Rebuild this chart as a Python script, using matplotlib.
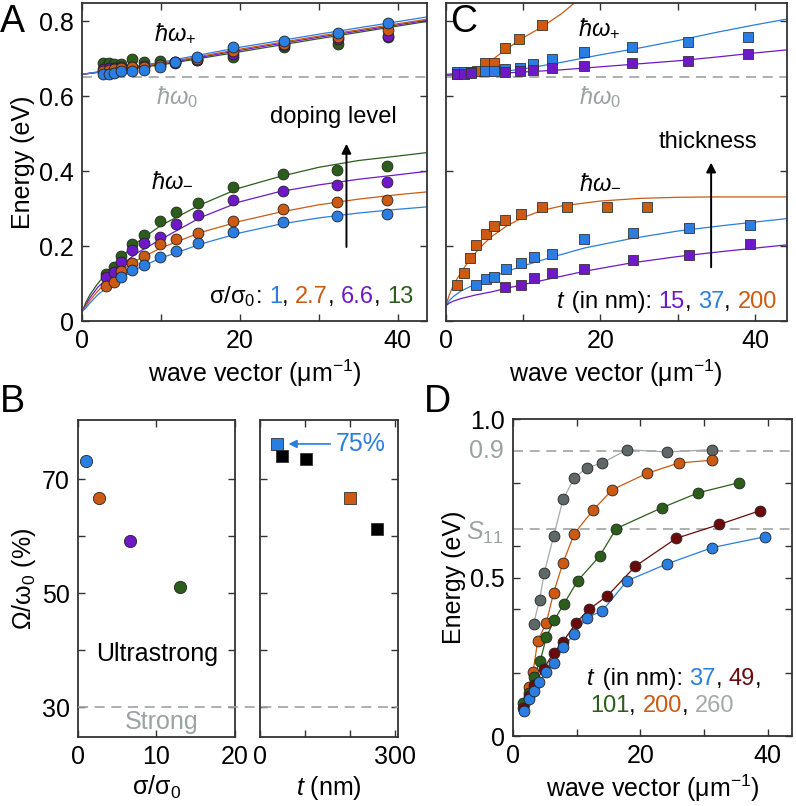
import matplotlib
matplotlib.use('Agg')
import matplotlib.pyplot as plt
from matplotlib import transforms
from matplotlib.lines import Line2D
from matplotlib.offsetbox import TextArea, HPacker, AnnotationBbox

plt.rcParams['font.family'] = ['Liberation Sans', 'DejaVu Sans']
plt.rcParams['mathtext.fontset'] = 'custom'
plt.rcParams['mathtext.rm'] = 'Liberation Sans'
plt.rcParams['mathtext.it'] = 'Liberation Sans:italic'
plt.rcParams['mathtext.bf'] = 'Liberation Sans:bold'

BLUE = '#2a7de1'
ORANGE = '#cc5a12'
PURPLE = '#6e18c8'
GREEN = '#2b5e1a'
DARKRED = '#6b0a0a'
GREY_PT = '#5f6868'
GREY_LN = '#a5a9a9'
GREY_TXT = '#9aa2a2'
DASH = '#9ea3a3'
FS = 18      # tick labels / axis labels
FT = 17      # annotations
NB = '\u00a0'

# ---------------- panel A data: doping series ----------------
a_k_up = [2.6, 3.4, 4.1, 4.9, 6.3, 7.9, 9.9, 11.8, 14.6, 19.1, 25.6, 32.4, 38.7]
a_up_green = [0.687, 0.687, 0.686, 0.686, 0.698, 0.691, 0.693, 0.690, 0.696, 0.703, 0.731, 0.740, 0.757]
a_up_purple = [0.672, 0.674, 0.675, 0.677, 0.678, 0.680, 0.683, 0.688, 0.697, 0.712, 0.735, 0.752, 0.761]
a_up_orange = [0.668, 0.670, 0.672, 0.675, 0.677, 0.678, 0.682, 0.690, 0.700, 0.720, 0.740, 0.757, 0.775]
a_up_blue = [0.659, 0.660, 0.662, 0.666, 0.667, 0.669, 0.678, 0.691, 0.705, 0.731, 0.747, 0.767, 0.794]

a_k_lo = [3.0, 4.0, 4.9, 6.3, 7.9, 9.9, 11.9, 14.7, 19.1, 25.5, 32.3, 38.6]
a_lo_green = [0.125, 0.145, 0.173, 0.205, 0.229, 0.267, 0.291, 0.315, 0.358, 0.392, 0.404, 0.413]
a_lo_purple = [0.118, 0.130, 0.158, 0.189, 0.207, 0.223, 0.260, 0.283, 0.323, 0.347, 0.363, 0.370]
a_lo_orange = [0.093, 0.105, 0.134, 0.155, 0.173, 0.205, 0.218, 0.235, 0.267, 0.298, 0.318, 0.323]
a_k_lo_blue = [4.9, 6.3, 7.9, 9.9, 11.9, 14.7, 19.1, 25.5, 32.3, 38.6]
a_lo_blue = [0.118, 0.136, 0.149, 0.170, 0.188, 0.209, 0.238, 0.265, 0.281, 0.285]

# fit curves
a_fit_k_up = [0, 10, 20, 30, 44]
a_fit_up_blue = [0.658, 0.690, 0.730, 0.765, 0.812]
a_fit_up_orange = [0.658, 0.687, 0.725, 0.760, 0.806]
a_fit_up_purple = [0.658, 0.685, 0.722, 0.757, 0.803]
a_fit_up_green = [0.658, 0.683, 0.718, 0.753, 0.800]
a_fit_k_lo = [0, 0.5, 1, 2, 3, 5, 7, 10, 15, 20, 25, 30, 35, 40, 44]
a_fit_lo_green = [0.025, 0.05, 0.07, 0.10, 0.125, 0.17, 0.21, 0.255, 0.31, 0.355, 0.385, 0.41, 0.428, 0.44, 0.45]
a_fit_lo_purple = [0.025, 0.045, 0.062, 0.09, 0.11, 0.15, 0.182, 0.218, 0.276, 0.318, 0.345, 0.363, 0.378, 0.39, 0.40]
a_fit_lo_orange = [0.025, 0.04, 0.055, 0.08, 0.10, 0.135, 0.163, 0.195, 0.236, 0.266, 0.29, 0.31, 0.325, 0.337, 0.345]
a_fit_lo_blue = [0.025, 0.035, 0.048, 0.07, 0.087, 0.115, 0.14, 0.168, 0.205, 0.235, 0.258, 0.275, 0.288, 0.298, 0.305]

# ---------------- panel C data: thickness series ----------------
c_k_up_orange = [1.5, 2.35, 3.2, 4.1, 5.1, 6.2, 7.7, 9.5, 12.5]
c_up_orange = [0.659, 0.662, 0.665, 0.667, 0.689, 0.689, 0.727, 0.751, 0.789]
c_k_up_blue = [1.5, 2.4, 3.3, 5.1, 6.2, 7.7, 9.6, 11.3, 13.8, 17.9, 24.1, 31.3, 39.1]
c_up_blue = [0.665, 0.665, 0.664, 0.667, 0.667, 0.671, 0.674, 0.685, 0.698, 0.718, 0.731, 0.745, 0.758]
c_k_up_purple = [1.5, 2.4, 3.3, 7.7, 9.6, 11.3, 13.8, 17.9, 24.1, 31.3, 39.1]
c_up_purple = [0.659, 0.660, 0.661, 0.665, 0.667, 0.669, 0.675, 0.680, 0.687, 0.693, 0.712]

c_k_lo_orange = [1.5, 2.4, 3.1, 3.9, 5.2, 6.2, 7.7, 9.7, 12.4, 15.7, 20.9, 26.0]
c_lo_orange = [0.096, 0.129, 0.167, 0.203, 0.232, 0.253, 0.269, 0.285, 0.303, 0.303, 0.303, 0.303]
c_k_lo_blue = [3.9, 5.2, 6.2, 7.8, 9.7, 11.4, 13.8, 17.9, 24.2, 31.4, 39.3]
c_lo_blue = [0.096, 0.111, 0.118, 0.138, 0.155, 0.171, 0.180, 0.220, 0.235, 0.247, 0.257]
c_k_lo_purple = [7.7, 9.7, 11.4, 13.8, 17.9, 24.2, 31.4, 39.3]
c_lo_purple = [0.090, 0.096, 0.114, 0.127, 0.138, 0.163, 0.176, 0.205]

c_fit_k_up_orange = [0, 2, 4, 5.1, 7.7, 10, 12.5, 15, 17.1]
c_fit_up_orange = [0.658, 0.662, 0.672, 0.682, 0.723, 0.755, 0.785, 0.820, 0.856]
c_fit_k_up = [0, 5, 10, 15, 20, 25, 30, 35, 40, 44]
c_fit_up_blue = [0.655, 0.660, 0.672, 0.690, 0.710, 0.728, 0.748, 0.770, 0.790, 0.805]
c_fit_up_purple = [0.656, 0.659, 0.664, 0.670, 0.678, 0.686, 0.694, 0.704, 0.715, 0.723]
c_fit_k_lo_orange = [0, 0.5, 1, 2, 3, 4, 5, 6, 8, 10, 12.5, 15, 20, 25, 30, 35, 44]
c_fit_lo_orange = [0.04, 0.07, 0.095, 0.13, 0.16, 0.185, 0.207, 0.226, 0.255, 0.276, 0.295, 0.307,
                   0.32, 0.327, 0.33, 0.331, 0.331]
c_fit_k_lo = [0, 0.5, 1, 2, 4, 6, 8, 10, 14, 18, 24, 30, 36, 44]
c_fit_lo_blue = [0.04, 0.055, 0.065, 0.08, 0.10, 0.117, 0.133, 0.147, 0.172, 0.195, 0.22, 0.24, 0.255, 0.273]
c_fit_lo_purple = [0.04, 0.048, 0.053, 0.06, 0.07, 0.078, 0.088, 0.097, 0.115, 0.133, 0.155, 0.172, 0.186, 0.203]

# ---------------- panel B data ----------------
b_sigma = [1, 2.7, 6.6, 13]
b_sigma_ratio = [73.2, 66.7, 59.2, 51.1]
b_sigma_colors = [BLUE, ORANGE, PURPLE, GREEN]
b_t = [37, 49, 101, 200, 260]
b_t_ratio = [76.2, 74.0, 73.5, 66.7, 61.2]
b_t_colors = [BLUE, 'black', 'black', ORANGE, 'black']

# ---------------- panel D data ----------------
d_k_blue = [1.67, 2.46, 3.24, 4.03, 5.23, 6.38, 7.85, 9.62, 11.6, 14.0, 17.9, 24.1, 31.3, 39.5]
d_e_blue = [0.08, 0.116, 0.143, 0.171, 0.201, 0.231, 0.28, 0.322, 0.374, 0.395, 0.49, 0.543, 0.595, 0.629]
d_k_red = [1.6, 2.46, 3.24, 4.81, 6.38, 7.85, 9.94, 11.9, 14.8, 19.2, 25.6, 32.4, 38.7]
d_e_red = [0.09, 0.125, 0.16, 0.213, 0.263, 0.298, 0.358, 0.40, 0.442, 0.536, 0.624, 0.668, 0.711]
d_k_green = [1.57, 2.46, 3.24, 4.29, 5.23, 6.48, 7.95, 10.15, 13.6, 16.2, 23.4, 29.1, 35.5]
d_e_green = [0.103, 0.135, 0.187, 0.238, 0.313, 0.366, 0.416, 0.49, 0.568, 0.655, 0.721, 0.768, 0.80]
d_k_orange = [1.67, 2.46, 3.14, 3.87, 5.23, 6.38, 7.85, 9.62, 12.56, 15.6, 21.0, 26.0, 31.3]
d_e_orange = [0.10, 0.156, 0.201, 0.30, 0.358, 0.453, 0.547, 0.639, 0.713, 0.778, 0.829, 0.862, 0.871]
d_k_grey = [3.24, 4.18, 4.91, 6.38, 7.85, 9.62, 11.6, 14.0, 17.9, 24.1, 31.3]
d_e_grey = [0.355, 0.431, 0.516, 0.631, 0.747, 0.815, 0.847, 0.862, 0.904, 0.897, 0.904]

E0 = 0.65
S11 = 0.655


def style_axes(ax):
    for s in ax.spines.values():
        s.set_linewidth(1.3)
        s.set_color('#333333')
    ax.tick_params(direction='in', top=True, right=True, length=5, width=1,
                   labelsize=FS, color='#333333', pad=6)


def color_text(ax, x, y, parts, align=(1, 0.5), size=FS):
    boxes = [TextArea(s, textprops=dict(color=c, fontsize=size)) for s, c in parts]
    pack = HPacker(children=boxes, align='baseline', pad=0, sep=0)
    ab = AnnotationBbox(pack, (x, y), xycoords='data', box_alignment=align,
                        frameon=False, pad=0)
    ax.add_artist(ab)


fig = plt.figure(figsize=(7.96, 8.06), dpi=100)

mk = dict(marker='o', ms=7.8, mec='#222222', mew=0.6, ls='none')
sq = dict(marker='s', ms=7.4, mec='#333333', mew=0.6, ls='none')

# ---------------- A ----------------
axA = fig.add_axes([0.103, 0.6017, 0.4334, 0.3945])
style_axes(axA)
axA.axhline(E0, color=DASH, ls=(0, (6, 4)), lw=1.2, zorder=1)
for fk, fy, col in [(a_fit_k_up, a_fit_up_green, GREEN), (a_fit_k_up, a_fit_up_purple, PURPLE),
                    (a_fit_k_up, a_fit_up_orange, ORANGE), (a_fit_k_up, a_fit_up_blue, BLUE),
                    (a_fit_k_lo, a_fit_lo_green, GREEN), (a_fit_k_lo, a_fit_lo_purple, PURPLE),
                    (a_fit_k_lo, a_fit_lo_orange, ORANGE), (a_fit_k_lo, a_fit_lo_blue, BLUE)]:
    axA.plot(fk, fy, color=col, lw=0.9, zorder=2)
for ys, col in [(a_up_green, GREEN), (a_up_purple, PURPLE), (a_up_orange, ORANGE), (a_up_blue, BLUE)]:
    axA.plot(a_k_up, ys, mfc=col, zorder=3, **mk)
axA.plot(a_k_lo, a_lo_green, mfc=GREEN, zorder=3, **mk)
axA.plot(a_k_lo, a_lo_purple, mfc=PURPLE, zorder=3, **mk)
axA.plot(a_k_lo, a_lo_orange, mfc=ORANGE, zorder=3, **mk)
axA.plot(a_k_lo_blue, a_lo_blue, mfc=BLUE, zorder=3, **mk)
axA.set_xlim(0, 43.7)
axA.set_ylim(0, 0.848)
axA.set_xticks([0, 10, 20, 30, 40])
axA.set_xticklabels(['0', '', '20', '', '40'])
axA.set_yticks([0, 0.2, 0.4, 0.6, 0.8])
axA.set_yticklabels(['0', '0.2', '0.4', '0.6', '0.8'])
axA.set_xlabel('wave vector (μm$^{-1}$)', fontsize=FS, labelpad=3)
axA.set_ylabel('Energy (eV)', fontsize=FS, labelpad=3)
axA.text(11.8, 0.768, r'$\hbar\omega_{+}$', fontsize=FT, ha='center', va='center')
axA.text(12.0, 0.597, r'$\hbar\omega_{0}$', fontsize=FT, ha='center', va='center', color=GREY_TXT)
axA.text(11.4, 0.376, r'$\hbar\omega_{-}$', fontsize=FT, ha='center', va='center')
axA.text(31.8, 0.545, 'doping level', fontsize=FT, ha='center', va='center')
axA.annotate('', xy=(33.5, 0.48), xytext=(33.5, 0.19),
             arrowprops=dict(arrowstyle='-|>', color='black', lw=1.4, mutation_scale=14))
color_text(axA, 42.0, 0.066, [('σ/σ$_0$', 'black'), (':' + NB, 'black'), ('1', BLUE),
                              (',' + NB, 'black'), ('2.7', ORANGE), (',' + NB, 'black'),
                              ('6.6', PURPLE), (',' + NB, 'black'), ('13', GREEN)], size=FT)
fig.text(0.016, 0.973, 'A', fontsize=27, ha='center', va='center')

# ---------------- C ----------------
axC = fig.add_axes([0.5597, 0.6017, 0.429, 0.3945])
style_axes(axC)
axC.axhline(E0, color=DASH, ls=(0, (6, 4)), lw=1.2, zorder=1)
axC.plot(c_fit_k_up_orange, c_fit_up_orange, color=ORANGE, lw=0.9, zorder=2)
axC.plot(c_fit_k_up, c_fit_up_blue, color=BLUE, lw=0.9, zorder=2)
axC.plot(c_fit_k_up, c_fit_up_purple, color=PURPLE, lw=0.9, zorder=2)
axC.plot(c_fit_k_lo_orange, c_fit_lo_orange, color=ORANGE, lw=0.9, zorder=2)
axC.plot(c_fit_k_lo, c_fit_lo_blue, color=BLUE, lw=0.9, zorder=2)
axC.plot(c_fit_k_lo, c_fit_lo_purple, color=PURPLE, lw=0.9, zorder=2)
axC.plot(c_k_up_orange, c_up_orange, mfc=ORANGE, zorder=3, **sq)
axC.plot(c_k_up_blue, c_up_blue, mfc=BLUE, zorder=3, **sq)
axC.plot(c_k_up_purple, c_up_purple, mfc=PURPLE, zorder=3, **sq)
axC.plot(c_k_lo_orange, c_lo_orange, mfc=ORANGE, zorder=3, **sq)
axC.plot(c_k_lo_blue, c_lo_blue, mfc=BLUE, zorder=3, **sq)
axC.plot(c_k_lo_purple, c_lo_purple, mfc=PURPLE, zorder=3, **sq)
axC.set_xlim(0, 44.1)
axC.set_ylim(0, 0.848)
axC.set_xticks([0, 10, 20, 30, 40])
axC.set_xticklabels(['0', '', '20', '', '40'])
axC.set_yticks([0, 0.2, 0.4, 0.6, 0.8])
axC.set_yticklabels([])
axC.set_xlabel('wave vector (μm$^{-1}$)', fontsize=FS, labelpad=3)
axC.text(19.9, 0.78, r'$\hbar\omega_{+}$', fontsize=FT, ha='center', va='center')
axC.text(20.0, 0.597, r'$\hbar\omega_{0}$', fontsize=FT, ha='center', va='center', color=GREY_TXT)
axC.text(20.0, 0.37, r'$\hbar\omega_{-}$', fontsize=FT, ha='center', va='center')
axC.text(33.9, 0.477, 'thickness', fontsize=FT, ha='center', va='center')
axC.annotate('', xy=(34.3, 0.43), xytext=(34.3, 0.136),
             arrowprops=dict(arrowstyle='-|>', color='black', lw=1.4, mutation_scale=14))
color_text(axC, 42.8, 0.05, [('$t$', 'black'), (NB + '(in nm):' + NB, 'black'), ('15', PURPLE),
                             (',' + NB, 'black'), ('37', BLUE), (',' + NB, 'black'),
                             ('200', ORANGE)], size=FT)
fig.text(0.582, 0.973, 'C', fontsize=27, ha='center', va='center')

# ---------------- B ----------------
axB1 = fig.add_axes([0.098, 0.0856, 0.197, 0.3933])
style_axes(axB1)
for x, y, c in zip(b_sigma, b_sigma_ratio, b_sigma_colors):
    axB1.plot(x, y, marker='o', ms=8.8, mfc=c, mec='#222222', mew=0.6, ls='none', zorder=3)
axB1.set_xlim(0, 20)
axB1.set_ylim(24.8, 80.4)
axB1.set_xticks([0, 10, 20])
axB1.set_yticks([30, 40, 50, 60, 70])
axB1.set_yticklabels(['30', '', '50', '', '70'])
axB1.set_xlabel('σ/σ$_0$', fontsize=FS, labelpad=3)
axB1.set_ylabel('Ω/ω$_0$ (%)', fontsize=FS, labelpad=3)
axB1.text(10.1, 39.3, 'Ultrastrong', fontsize=FS, ha='center', va='center')
axB1.text(10.7, 27.5, 'Strong', fontsize=FS, ha='center', va='center', color=GREY_TXT)

axB2 = fig.add_axes([0.3266, 0.0856, 0.173, 0.3933])
style_axes(axB2)
for x, y, c in zip(b_t, b_t_ratio, b_t_colors):
    axB2.plot(x, y, marker='s', ms=8.5, mfc=c, mec='#333333', mew=0.6, ls='none', zorder=3)
axB2.set_xlim(0, 305)
axB2.set_ylim(24.8, 80.4)
axB2.set_xticks([0, 100, 200, 300])
axB2.set_xticklabels(['0', '', '', '300'])
axB2.set_yticks([30, 40, 50, 60, 70])
axB2.set_yticklabels([])
axB2.set_xlabel('$t$ (nm)', fontsize=FS, labelpad=3)
axB2.annotate('75%', xy=(b_t[0] + 20, b_t_ratio[0]), xytext=(168, b_t_ratio[0]),
              color=BLUE, fontsize=FS, va='center', ha='left',
              arrowprops=dict(arrowstyle='-|>', color=BLUE, lw=1.2, mutation_scale=12))
tr = transforms.blended_transform_factory(fig.transFigure, axB1.transData)
fig.add_artist(Line2D([0.098, 0.4996], [30, 30], transform=tr, color=DASH,
                      ls=(0, (6, 4)), lw=1.2))
fig.text(0.016, 0.501, 'B', fontsize=27, ha='center', va='center')

# ---------------- D ----------------
axD = fig.add_axes([0.6445, 0.0868, 0.3505, 0.393])
style_axes(axD)
axD.axhline(0.9, color=DASH, ls=(0, (6, 4)), lw=1.2, zorder=1)
axD.axhline(S11, color=DASH, ls=(0, (6, 4)), lw=1.2, zorder=1)
for ks, es, c, lc in [(d_k_grey, d_e_grey, GREY_PT, GREY_LN), (d_k_orange, d_e_orange, ORANGE, ORANGE),
                      (d_k_green, d_e_green, GREEN, GREEN), (d_k_red, d_e_red, DARKRED, DARKRED),
                      (d_k_blue, d_e_blue, BLUE, BLUE)]:
    axD.plot(ks, es, color=lc, lw=0.9, zorder=2)
    axD.plot(ks, es, mfc=c, zorder=3, **mk)
axD.set_xlim(0, 43.8)
axD.set_ylim(0, 1.0)
axD.set_xticks([0, 10, 20, 30, 40])
axD.set_xticklabels(['0', '', '20', '', '40'])
axD.set_yticks([0, 0.2, 0.4, 0.5, 0.6, 0.8, 1.0])
axD.set_yticklabels(['0', '', '', '0.5', '', '', '1.0'])
axD.set_xlabel('wave vector (μm$^{-1}$)', fontsize=FS, labelpad=3)
axD.set_ylabel('Energy (eV)', fontsize=FS, labelpad=3)
trD = transforms.blended_transform_factory(axD.transAxes, axD.transData)
axD.text(-0.035, 0.9, '0.9', transform=trD, fontsize=FS, ha='right', va='center', color=GREY_TXT)
axD.text(-0.035, 0.64, '$S_{11}$', transform=trD, fontsize=FS, ha='right', va='center', color=GREY_TXT)
color_text(axD, 11.5, 0.18, [('$t$', 'black'), (NB + '(in nm):' + NB, 'black'), ('37', BLUE),
                             (',' + NB, 'black'), ('49', DARKRED), (',', 'black')],
           align=(0, 0.5), size=FT)
color_text(axD, 12.1, 0.095, [('101', GREEN), (',' + NB, 'black'), ('200', ORANGE),
                              (',' + NB, 'black'), ('260', GREY_LN)], align=(0, 0.5), size=FT)
fig.text(0.55, 0.501, 'D', fontsize=27, ha='center', va='center')

fig.savefig('out.png', dpi=100)
